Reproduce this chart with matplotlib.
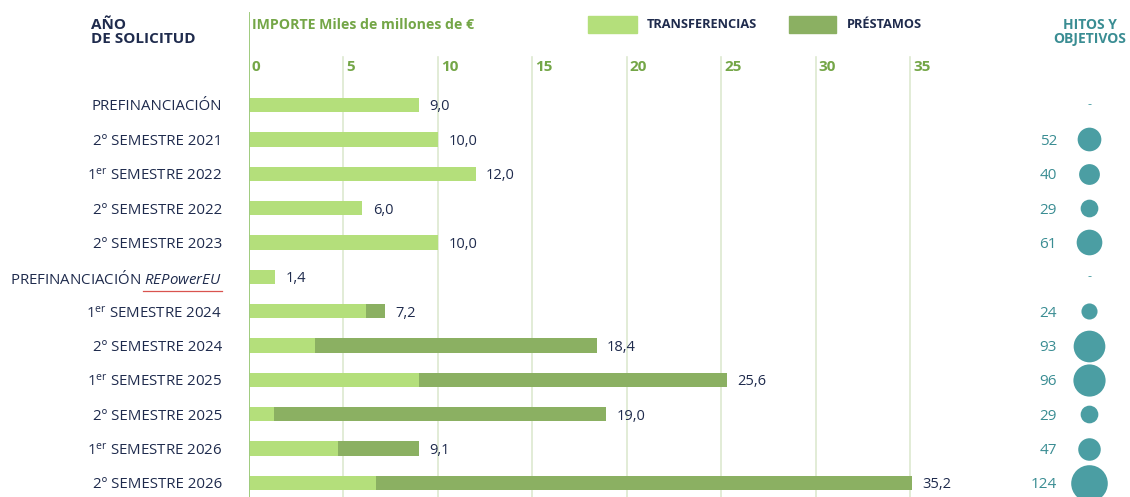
"""Importe solicitado por tramo (transferencias / préstamos) e hitos y objetivos."""
import matplotlib
matplotlib.use("Agg")
import matplotlib.pyplot as plt
from matplotlib.patches import Rectangle
from matplotlib.lines import Line2D

categories = [
    "PREFINANCIACIÓN",
    "2º SEMESTRE 2021",
    r"1$^{\mathrm{er}}$ SEMESTRE 2022",
    "2º SEMESTRE 2022",
    "2º SEMESTRE 2023",
    r"PREFINANCIACIÓN $\mathit{REPowerEU}$",
    r"1$^{\mathrm{er}}$ SEMESTRE 2024",
    "2º SEMESTRE 2024",
    r"1$^{\mathrm{er}}$ SEMESTRE 2025",
    "2º SEMESTRE 2025",
    r"1$^{\mathrm{er}}$ SEMESTRE 2026",
    "2º SEMESTRE 2026",
]
transferencias = [9.0, 10.0, 12.0, 6.0, 10.0, 1.4, 6.2, 3.5, 9.0, 1.3, 4.7, 6.7]
prestamos = [0.0, 0.0, 0.0, 0.0, 0.0, 0.0, 1.0, 14.9, 16.3, 17.6, 4.3, 28.4]
totales = ["9,0", "10,0", "12,0", "6,0", "10,0", "1,4", "7,2", "18,4", "25,6", "19,0", "9,1", "35,2"]
hitos = [None, 52, 40, 29, 61, None, 24, 93, 96, 29, 47, 124]
x_ticks = [0, 5, 10, 15, 20, 25, 30, 35]

LIGHT = "#b4df7b"
DARK = "#8bb062"
NAVY = "#1f2b4d"
GREEN_TXT = "#74a647"
TEAL = "#4b9ea3"
TEAL_TXT = "#3a8d93"
GRID = "#dde9d0"
AXIS = "#9fcb7e"

plt.rcParams.update({
    "font.family": ["Open Sans", "DejaVu Sans"],
    "mathtext.fontset": "custom",
    "mathtext.rm": "Open Sans",
    "mathtext.it": "Open Sans:italic",
    "mathtext.bf": "Open Sans:bold",
})

W, H = 1130, 497
fig = plt.figure(figsize=(W / 100, H / 100), dpi=100)

# main axes: pixel 249 = 0, 18.89 px per unit; rows from y=105 every 34.36 px
x0, ppu = 249, 18.89
y0, ppr = 105, 34.36
ax = fig.add_axes([x0 / W, 0, (1040 - x0) / W, 1])
ax.set_xlim(0, (1040 - x0) / ppu)
ax.set_ylim((H - y0) / ppr, -y0 / ppr)
ax.axis("off")

rows = list(range(len(categories)))

def py(p):
    return (p - y0) / ppr

for v in x_ticks[1:]:
    ax.plot([v, v], [py(57), py(H)], color=GRID, lw=1.2, zorder=0)
ax.plot([0, 0], [py(13), py(H)], color=AXIS, lw=1.4, zorder=3)
for v in x_ticks:
    ax.text(v + 0.15, py(67), str(v), color=GREEN_TXT, fontsize=11,
            fontweight="bold", ha="left", va="center")

bh = 0.42
ax.barh(rows, transferencias, height=bh, color=LIGHT, zorder=2)
ax.barh(rows, prestamos, left=transferencias, height=bh, color=DARK, zorder=2)
for r, t, p, lab in zip(rows, transferencias, prestamos, totales):
    ax.text(t + p + 0.55, r, lab, color=NAVY, fontsize=10.5, ha="left",
            va="center_baseline")

for r, lab in zip(rows, categories):
    fig.text(222 / W, 1 - (y0 + r * ppr) / H, lab, color=NAVY, fontsize=10.8,
             ha="right", va="center_baseline")
# spell-check underline under REPowerEU, as in the source image
fig.add_artist(Line2D([143 / W, 222 / W], [1 - 291 / H] * 2, color="#d9534f",
                      lw=0.9, transform=fig.transFigure))

# headers
fig.text(91 / W, 1 - 32 / H, "AÑO\nDE SOLICITUD", color=NAVY, fontsize=11,
         fontweight="bold", ha="left", va="center", linespacing=0.95)
fig.text(252 / W, 1 - 25 / H, "IMPORTE Miles de millones de €", color=GREEN_TXT,
         fontsize=10.2, fontweight="bold", ha="left", va="center")

# legend
fig.patches.append(Rectangle((588 / W, 1 - 33 / H), 49 / W, 17 / H,
                             transform=fig.transFigure, color=LIGHT))
fig.text(647 / W, 1 - 25 / H, "TRANSFERENCIAS", color=NAVY, fontsize=9.2,
         fontweight="bold", ha="left", va="center")
fig.patches.append(Rectangle((789 / W, 1 - 33 / H), 47 / W, 17 / H,
                             transform=fig.transFigure, color=DARK))
fig.text(847 / W, 1 - 25 / H, "PRÉSTAMOS", color=NAVY, fontsize=9.2,
         fontweight="bold", ha="left", va="center")

# hitos y objetivos column
ax2 = fig.add_axes([1000 / W, 0, 130 / W, 1], sharey=ax)
ax2.set_xlim(1000, 1130)
ax2.axis("off")
fig.text(1090 / W, 1 - 32 / H, "HITOS Y\nOBJETIVOS", color=TEAL_TXT, fontsize=10,
         fontweight="bold", ha="center", va="center", linespacing=0.95)
bx, nx = 1089, 1057
for r, h in zip(rows, hitos):
    if h is None:
        ax2.text(bx, r, "-", color=TEAL, fontsize=9, ha="center", va="center")
        continue
    ax2.scatter([bx], [r], s=5.6 * h, color=TEAL, clip_on=False, zorder=3,
                linewidths=0)
    ax2.text(nx, r, str(h), color=TEAL_TXT, fontsize=11, ha="right",
             va="center_baseline")

fig.savefig("out.png", dpi=100)
